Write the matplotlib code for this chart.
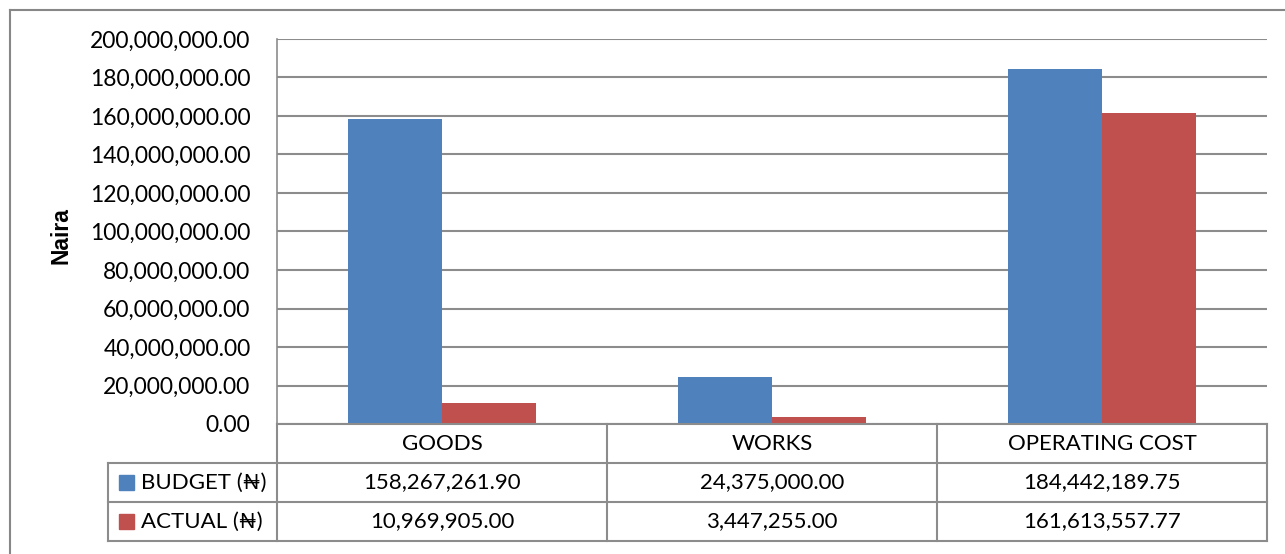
import matplotlib
matplotlib.use("Agg")
import matplotlib.pyplot as plt
from matplotlib.lines import Line2D
from matplotlib.patches import Rectangle
from matplotlib.ticker import FuncFormatter

categories = ["GOODS", "WORKS", "OPERATING COST"]
budget = [158267261.90, 24375000.00, 184442189.75]
actual = [10969905.00, 3447255.00, 161613557.77]
series_names = ["BUDGET (\u20a6)", "ACTUAL (\u20a6)"]
y_ticks = [0, 20e6, 40e6, 60e6, 80e6, 100e6, 120e6, 140e6, 160e6, 180e6, 200e6]
y_label = "Naira"

W, H = 1285, 554
BLUE = "#4F81BD"
RED = "#C0504D"
GRID = "#8C8C8C"
FONT = ["Lato", "DejaVu Sans"]

plt.rcParams['font.family'] = FONT

fig = plt.figure(figsize=(W / 100, H / 100), dpi=100)

def fx(x):
    return x / W

def fy(y):
    return 1 - y / H

L, R, T, B = 277, 1267, 39, 424
ax = fig.add_axes([fx(L), fy(B), fx(R) - fx(L), fy(T) - fy(B)])

n = len(categories)
xs = list(range(n))
bw = 0.286
ax.bar([x - bw / 2 for x in xs], budget, width=bw, color=BLUE, zorder=3)
ax.bar([x + bw / 2 for x in xs], actual, width=bw, color=RED, zorder=3)

ax.set_xlim(-0.5, n - 0.5)
ax.set_ylim(0, 200e6)
ax.set_yticks(y_ticks)
ax.yaxis.set_major_formatter(FuncFormatter(lambda v, p: f"{v:,.2f}"))
ax.tick_params(axis='y', length=0, pad=19, labelsize=16.5, colors="black")
ax.set_xticks([])
ax.grid(axis='y', color=GRID, linewidth=1.5, zorder=0)
for s in ["top", "right", "bottom"]:
    ax.spines[s].set_visible(False)
ax.spines["left"].set_color(GRID)
ax.spines["left"].set_linewidth(1.2)

fig.text(fx(61), fy(236), y_label, rotation=90, ha='center', va='center',
         fontsize=16.5, fontweight='bold', family=["Liberation Sans", "DejaVu Sans"])

# Outer chart border
fig.add_artist(Line2D([fx(10), fx(1285)], [fy(10), fy(10)], color="#878787", lw=1.5))
fig.add_artist(Line2D([fx(10), fx(10)], [fy(10), fy(554)], color="#878787", lw=1.5))

# Data table
rows_y = [424, 463, 502, 541]
col_x = [277, 607, 937, 1267]
label_left = 108
lc = "#8C8C8C"
lw = 1.5
fig.add_artist(Line2D([fx(L), fx(R)], [fy(424), fy(424)], color=lc, lw=lw))
for yy in rows_y[1:]:
    fig.add_artist(Line2D([fx(label_left), fx(R)], [fy(yy), fy(yy)], color=lc, lw=lw))
for xx in col_x:
    fig.add_artist(Line2D([fx(xx), fx(xx)], [fy(424), fy(541)], color=lc, lw=lw))
fig.add_artist(Line2D([fx(label_left), fx(label_left)], [fy(463), fy(541)], color=lc, lw=lw))

fs = 16
for i, cat in enumerate(categories):
    cx = (col_x[i] + col_x[i + 1]) / 2
    fig.text(fx(cx), fy((rows_y[0] + rows_y[1]) / 2), cat, ha='center', va='center', fontsize=fs)
    fig.text(fx(cx), fy((rows_y[1] + rows_y[2]) / 2), f"{budget[i]:,.2f}", ha='center', va='center', fontsize=fs)
    fig.text(fx(cx), fy((rows_y[2] + rows_y[3]) / 2), f"{actual[i]:,.2f}", ha='center', va='center', fontsize=fs)

for j, (name, col) in enumerate(zip(series_names, [BLUE, RED])):
    cy = (rows_y[j + 1] + rows_y[j + 2]) / 2
    fig.add_artist(Rectangle((fx(119), fy(cy + 7.5)), fx(15), 15 / H, color=col, transform=fig.transFigure))
    fig.text(fx(141), fy(cy), name, ha='left', va='center', fontsize=fs)

fig.savefig("out.png", dpi=100)
